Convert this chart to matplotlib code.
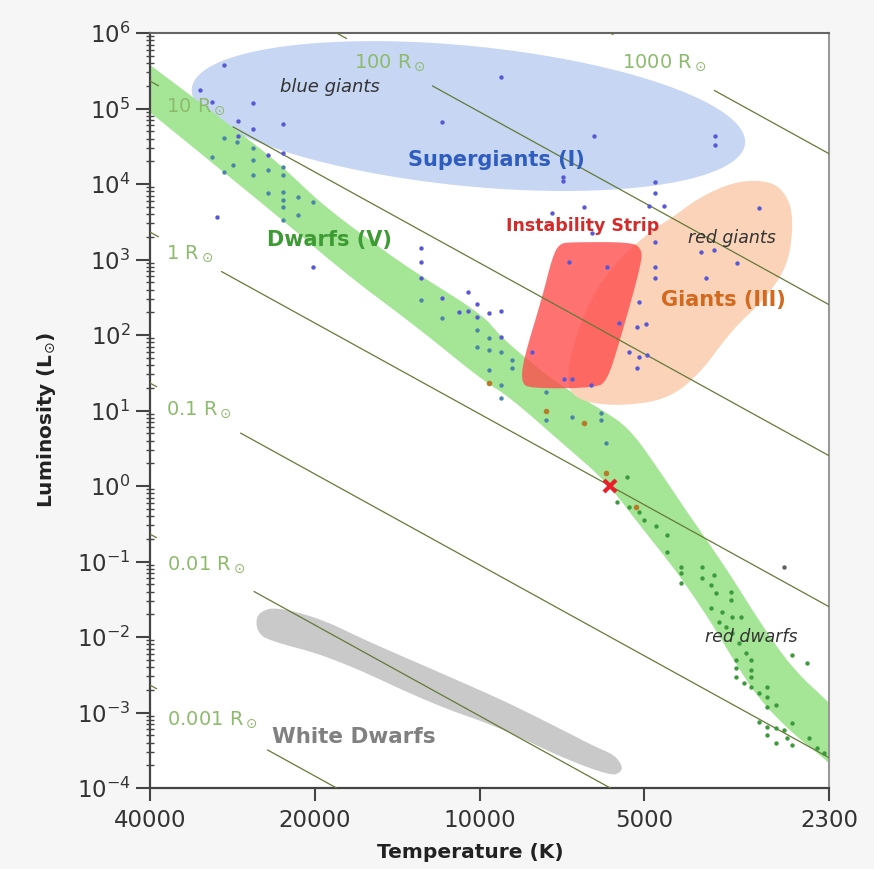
import numpy as np
import matplotlib
matplotlib.use("Agg")
import matplotlib.pyplot as plt
from matplotlib.patches import Polygon
from matplotlib.ticker import FixedLocator, NullLocator, LogLocator, FuncFormatter

T_SUN = 5772.0

# ---- regions (temperature in K, log10 of luminosity in L_sun) ----
ms_upper_T = [48000, 40000, 26300, 22900, 19350, 15040, 13040, 9880, 9200, 8390,
              7150, 6045, 5330, 4700, 4145, 3810, 3460, 3090, 2690, 2300, 2100]
ms_upper_logL = [6.0, 5.58, 4.58, 4.23, 3.72, 3.13, 2.82, 2.27, 2.0, 1.74,
                 1.34, 1.03, 0.77, 0.21, -0.38, -0.76, -1.21, -1.78, -2.41, -2.87, -3.15]
ms_lower_T = [48000, 40000, 30200, 22900, 17280, 13040, 9880, 8820, 6945, 5870,
              5050, 4378, 3810, 3400, 3090, 2690, 2300, 2100]
ms_lower_logL = [5.41, 4.95, 4.23, 3.52, 2.77, 2.11, 1.40, 1.18, 0.52, 0.06,
                 -0.56, -1.12, -1.76, -2.36, -2.82, -3.27, -3.66, -3.95]

wd_T = [25200, 23670, 19600, 16090, 12090, 9320, 8115, 7063, 6124, 5680, 5490, 5513, 5750,
        7063, 9320, 12090, 18550, 24480, 25420, 25630]
wd_logL = [-1.67, -1.60, -1.75, -2.05, -2.44, -2.80, -3.01, -3.23, -3.46, -3.56, -3.70, -3.79, -3.84,
           -3.60, -3.18, -2.90, -2.27, -2.04, -1.93, -1.78]

giants_T = [2999, 2781, 2667, 2724, 3025, 3460, 3974, 4565, 5560, 6441, 6917, 6858,
            6307, 5630, 4902, 4378, 3974, 3430]
giants_logL = [4.05, 3.92, 3.59, 2.93, 2.46, 2.07, 1.47, 1.14, 1.06, 1.11, 1.27, 1.71,
               2.46, 2.97, 3.36, 3.59, 3.82, 4.03]

strip_T = [7365, 7150, 6800, 5287, 5070, 5050, 5560, 5846, 6124, 8115, 8390, 8320, 7685]
strip_logL = [3.03, 3.21, 3.23, 3.23, 3.15, 2.97, 1.89, 1.40, 1.30, 1.29, 1.38, 1.67, 2.50]

# supergiant ellipse: centre, semi-axes (px) and tilt (deg)
sg_T, sg_logL = 10480, 4.90
sg_a, sg_b, sg_angle = 278, 70, -5.7

# ---- constant radius lines ----
radii = [0.001, 0.01, 0.1, 1, 10, 100, 1000]
radius_labels = ['0.001 R$_\\odot$', '0.01 R$_\\odot$', '0.1 R$_\\odot$', '1 R$_\\odot$',
                 '10 R$_\\odot$', '100 R$_\\odot$', '1000 R$_\\odot$']
radius_label_T = [30830, 31620, 32560, 33820, 32970, 14605, 4603]
radius_gap = [0.100, 0.088, 0.075, 0.055, 0.066, 0.078, 0.091]

# ---- stars ----
blue_T = [29320, 32430, 30830, 25960, 27650, 22890, 11690, 9127, 6176, 3715, 3715, 7035, 7035,
          4779, 4779, 4902, 4603, 7365, 6441, 6228, 4779, 6858, 5847, 4779, 4779, 3858, 3088,
          3940, 3731, 3388, 5112, 5155, 4964, 5560, 5332, 5112, 4943, 5155, 8013, 7006, 6773,
          6254, 10520, 11690, 10890, 10520, 10130, 10130, 9596, 9127, 9127, 12770, 12770, 12770,
          30190, 20180, 24380, 22890, 27650, 25960]
blue_logL = [5.58, 5.25, 5.09, 5.07, 4.83, 4.80, 4.82, 5.42, 4.64, 4.64, 4.52, 4.09, 4.04,
             4.03, 3.88, 3.71, 3.71, 3.62, 3.70, 3.35, 3.23, 2.97, 2.90, 2.90, 2.76, 2.76, 3.68,
             3.10, 3.13, 2.95, 2.44, 2.11, 2.15, 2.16, 1.78, 1.71, 1.74, 1.56, 1.78, 1.42, 1.42,
             1.34, 2.57, 2.49, 2.31, 2.32, 2.41, 2.24, 2.29, 2.32, 1.97, 3.15, 2.97, 2.76,
             3.56, 2.90, 4.38, 4.41, 4.64, 4.73]

teal_T = [29320, 30830, 29320, 28240, 27760, 25960, 25960, 25960, 24380, 22890, 22890, 24380,
          22890, 22890, 22890, 22890, 21490, 21490, 20180, 12770, 11690, 10130, 10130, 9596,
          9596, 9127, 8712, 8712, 9596, 9127, 9127, 7553, 7553, 6773, 5997, 5997, 5872]
teal_logL = [4.61, 4.36, 4.16, 4.25, 4.56, 4.48, 4.32, 4.12, 4.19, 4.23, 4.12, 3.88,
             3.89, 3.79, 3.70, 3.52, 3.83, 3.59, 3.76, 2.46, 2.23, 2.07, 1.84, 1.96,
             1.80, 1.78, 1.67, 1.56, 1.54, 1.34, 1.17, 1.25, 0.87, 0.91, 0.97, 0.87, 0.57]

green_T = [5377, 5607, 5332, 5112, 5006, 4759, 4545, 4545, 4285, 4285, 4285, 3924, 3924, 3731,
           3778, 3700, 3473, 3473, 3778, 3607, 3459, 3331, 3653, 3546, 3459, 3359, 3262, 3194,
           3401, 3401, 3194, 3401, 3194, 3289, 3194, 3088, 2987, 2987, 2987, 2876, 3088, 2987,
           2876, 2781, 2689, 2987, 2876, 2746, 2689, 2504, 2421, 2351, 2689, 2525]
green_logL = [0.12, -0.21, -0.28, -0.34, -0.45, -0.53, -0.65, -0.87, -1.07, -1.15, -1.29, -1.07,
              -1.22, -1.18, -1.31, -1.42, -1.40, -1.51, -1.62, -1.67, -1.74, -1.74, -1.80, -1.87,
              -1.95, -2.08, -2.21, -2.31, -2.31, -2.41, -2.44, -2.53, -2.53, -2.61, -2.66, -2.74,
              -2.66, -2.80, -2.93, -2.90, -3.13, -3.19, -3.21, -3.23, -3.14, -3.30, -3.40, -3.34,
              -3.43, -3.34, -3.47, -3.54, -2.24, -2.34]

orange_T = [9596, 7553, 6441, 5872, 5177]
orange_logL = [1.36, 0.99, 0.83, 0.17, -0.28]

grey_T = [2781]
grey_logL = [-1.07]

xticks_T = [40000, 20000, 10000, 5000, 2300]
xtick_labels = ['40000', '20000', '10000', '5000', '2300']
yticks_exp = np.arange(-4, 7)


def chaikin(T, logL, n=3):
    p = np.column_stack([np.log10(T), logL])
    for _ in range(n):
        q = np.roll(p, -1, axis=0)
        out = np.empty((2 * len(p), 2))
        out[0::2] = 0.75 * p + 0.25 * q
        out[1::2] = 0.25 * p + 0.75 * q
        p = out
    return np.column_stack([10 ** p[:, 0], 10 ** p[:, 1]])


fig = plt.figure(figsize=(8.74, 8.69), dpi=100, facecolor='#f6f6f6')
ax = fig.add_axes([150 / 874, 81 / 869, 679 / 874, 755 / 869])
ax.set_facecolor('white')
ax.set_xscale('log')
ax.set_yscale('log')
ax.set_xlim(40000, 2300)
ax.set_ylim(1e-4, 1e6)

# supergiants ellipse built in display space
cx, cy = ax.transData.transform((sg_T, 10 ** sg_logL))
t = np.linspace(0, 2 * np.pi, 240)
ang = np.deg2rad(sg_angle)
u, v = sg_a * np.cos(t), sg_b * np.sin(t)
pts = np.column_stack([cx + u * np.cos(ang) - v * np.sin(ang),
                       cy + u * np.sin(ang) + v * np.cos(ang)])
sg_pts = ax.transData.inverted().transform(pts)
ax.add_patch(Polygon(sg_pts, closed=True, facecolor='#c6d6f3', edgecolor='none', zorder=1))

ms_T = ms_upper_T + ms_lower_T[::-1]
ms_logL = ms_upper_logL + ms_lower_logL[::-1]
ax.add_patch(Polygon(chaikin(ms_T, ms_logL, 3), closed=True, facecolor='#a5e696',
                     edgecolor='none', zorder=2))
ax.add_patch(Polygon(chaikin(wd_T, wd_logL, 3), closed=True, facecolor='#c9c9c9',
                     edgecolor='none', zorder=2))
ax.add_patch(Polygon(chaikin(giants_T, giants_logL, 3), closed=True, facecolor='#fad3b9',
                     edgecolor='none', zorder=3))
ax.add_patch(Polygon(chaikin(strip_T, strip_logL, 2), closed=True, facecolor='#ff4a4a',
                     edgecolor='none', alpha=0.78, zorder=4))

# lines of constant radius: L = R^2 (T/Tsun)^4
T_line = np.logspace(np.log10(2000), np.log10(50000), 400)
for R, lab, lt, gap in zip(radii, radius_labels, radius_label_T, radius_gap):
    L_line = R ** 2 * (T_line / T_SUN) ** 4
    d = np.log10(T_line) - np.log10(lt)
    ax.plot(T_line[d > gap], L_line[d > gap], color='#647a38', lw=0.9, zorder=5)
    ax.plot(T_line[d < -gap], L_line[d < -gap], color='#647a38', lw=0.9, zorder=5)
    ax.text(lt, R ** 2 * (lt / T_SUN) ** 4, lab, ha='center', va='center',
            color='#8dbb6c', fontsize=14, zorder=7)

dot = dict(s=10, linewidths=0, zorder=6)
ax.scatter(blue_T, 10 ** np.array(blue_logL), color='#5858d6', **dot)
ax.scatter(teal_T, 10 ** np.array(teal_logL), color='#4a86a8', **dot)
ax.scatter(green_T, 10 ** np.array(green_logL), color='#3c9a3c', **dot)
ax.scatter(orange_T, 10 ** np.array(orange_logL), color='#b87a2a', s=16, linewidths=0, zorder=6)
ax.scatter(grey_T, 10 ** np.array(grey_logL), color='#556060', **dot)
ax.plot([T_SUN], [1.0], marker='x', color='#e8202a', markersize=9, mew=3, zorder=8)

# region labels
ax.text(18800, 10 ** 5.285, 'blue giants', style='italic', fontsize=13, color='#333333',
        ha='center', va='center', zorder=7)
ax.text(9320, 10 ** 4.318, 'Supergiants (I)', fontweight='bold', fontsize=15, color='#2f5cbf',
        ha='center', va='center', zorder=7)
ax.text(18800, 10 ** 3.258, 'Dwarfs (V)', fontweight='bold', fontsize=15, color='#3e9a34',
        ha='center', va='center', zorder=7)
ax.text(6494, 10 ** 3.444, 'Instability Strip', fontweight='bold', fontsize=12.5, color='#d42a2a',
        ha='center', va='center', zorder=7)
ax.text(3459, 10 ** 3.285, 'red giants', style='italic', fontsize=12.5, color='#333333',
        ha='center', va='center', zorder=7)
ax.text(3593, 10 ** 2.464, 'Giants (III)', fontweight='bold', fontsize=15, color='#d3691f',
        ha='center', va='center', zorder=7)
ax.text(3194, 10 ** -2.0, 'red dwarfs', style='italic', fontsize=12.5, color='#333333',
        ha='center', va='center', zorder=7)
ax.text(16990, 10 ** -3.325, 'White Dwarfs', fontweight='bold', fontsize=15.5, color='#808080',
        ha='center', va='center', zorder=7)

# axes
ax.xaxis.set_major_locator(FixedLocator(xticks_T))
ax.xaxis.set_minor_locator(NullLocator())
ax.set_xticklabels(xtick_labels)
ax.yaxis.set_major_locator(FixedLocator(10.0 ** yticks_exp))
ax.yaxis.set_minor_locator(LogLocator(base=10, subs=np.arange(2, 10), numticks=200))
ax.yaxis.set_major_formatter(FuncFormatter(lambda y, p: '10$^{%d}$' % round(np.log10(y))))
ax.tick_params(axis='y', which='major', direction='out', length=10, width=1.5,
               labelsize=16.5, labelcolor='#333333', color='#444444', pad=4)
ax.tick_params(axis='y', which='minor', direction='inout', length=6, width=1, color='#444444')
ax.tick_params(axis='x', which='major', direction='out', length=9, width=1.5,
               labelsize=16.5, labelcolor='#333333', color='#444444', pad=6)
for side in ['left', 'bottom']:
    ax.spines[side].set_color('#444444')
    ax.spines[side].set_linewidth(1.6)
ax.spines['top'].set_color('#666666')
ax.spines['top'].set_linewidth(1.5)
ax.spines['right'].set_color('#999999')
ax.spines['right'].set_linewidth(1.5)

fig.text(47 / 874, 1 - 420 / 869, 'Luminosity (L$_{\\odot}$)', rotation=90, ha='center',
         va='center', fontsize=14.5, fontweight='bold', color='#222222')
fig.text(470 / 874, 1 - 853 / 869, 'Temperature (K)', ha='center', va='center',
         fontsize=14.5, fontweight='bold', color='#222222')

fig.savefig('out.png', dpi=100, facecolor=fig.get_facecolor())
